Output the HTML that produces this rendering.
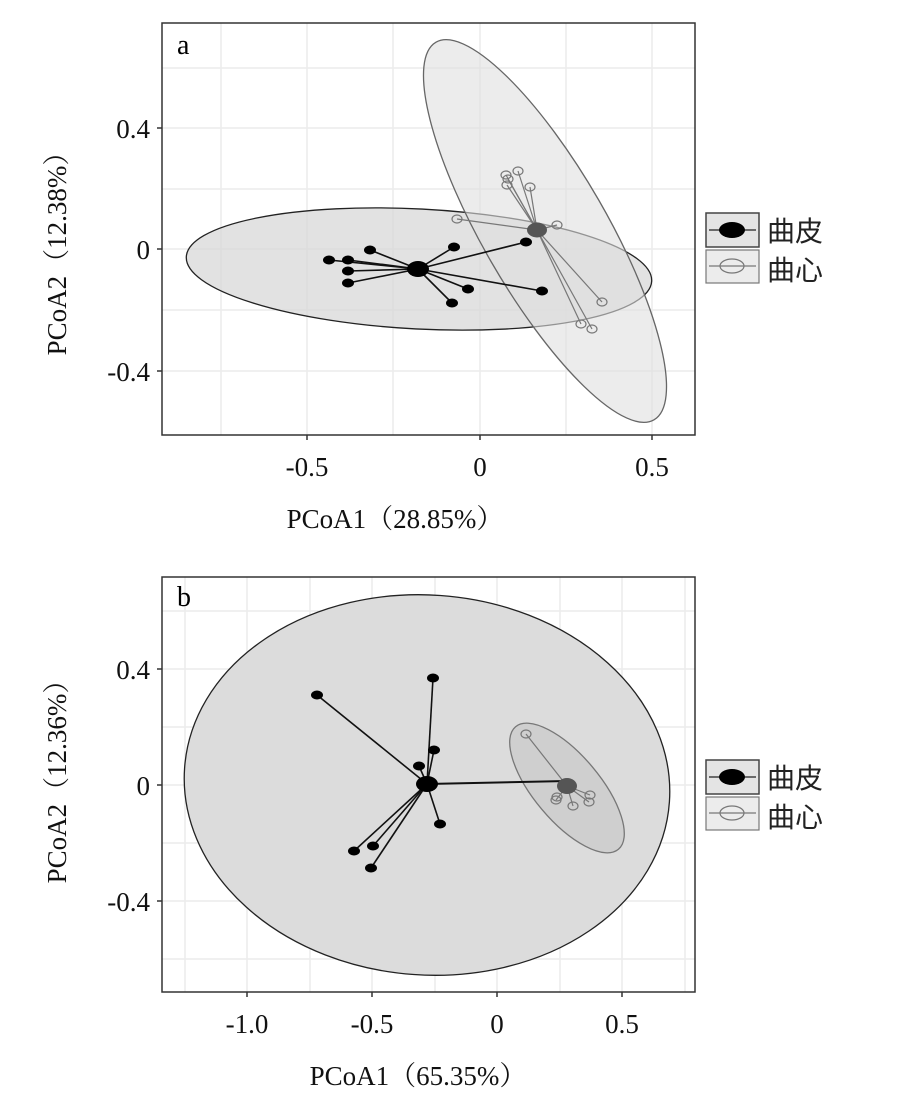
<!DOCTYPE html>
<html><head><meta charset="utf-8"><style>body{margin:0;background:#fff}svg{display:block}</style></head><body>
<svg width="914" height="1113" xmlns="http://www.w3.org/2000/svg" font-family="'Liberation Serif','Noto Serif CJK SC',serif">
<rect width="914" height="1113" fill="#fff"/>
<!-- Panel a -->
<g stroke="#ececec" stroke-width="1.5">
<line x1="221" y1="23" x2="221" y2="435"/><line x1="307" y1="23" x2="307" y2="435"/><line x1="393" y1="23" x2="393" y2="435"/><line x1="480" y1="23" x2="480" y2="435"/><line x1="566" y1="23" x2="566" y2="435"/><line x1="652" y1="23" x2="652" y2="435"/>
<line x1="162" y1="68" x2="695" y2="68"/><line x1="162" y1="128" x2="695" y2="128"/><line x1="162" y1="189" x2="695" y2="189"/><line x1="162" y1="249" x2="695" y2="249"/><line x1="162" y1="310" x2="695" y2="310"/><line x1="162" y1="371" x2="695" y2="371"/>
</g>
<ellipse cx="419" cy="269" rx="233" ry="60" transform="rotate(3 419 269)" fill="#d8d8d8" fill-opacity="0.75" stroke="#222" stroke-width="1.3"/>
<ellipse cx="545" cy="231" rx="218" ry="62" transform="rotate(60 545 231)" fill="#e0e0e0" fill-opacity="0.6" stroke="#666" stroke-width="1.3"/>
<g stroke="#111" stroke-width="1.6">
<line x1="418" y1="269" x2="329" y2="260"/><line x1="418" y1="269" x2="348" y2="260"/><line x1="418" y1="269" x2="348" y2="271"/><line x1="418" y1="269" x2="348" y2="283"/><line x1="418" y1="269" x2="370" y2="250"/><line x1="418" y1="269" x2="454" y2="247"/><line x1="418" y1="269" x2="526" y2="242"/><line x1="418" y1="269" x2="542" y2="291"/><line x1="418" y1="269" x2="468" y2="289"/><line x1="418" y1="269" x2="452" y2="303"/>
</g>
<g fill="#000">
<ellipse cx="329" cy="260" rx="6" ry="4.5"/><ellipse cx="348" cy="260" rx="6" ry="4.5"/><ellipse cx="348" cy="271" rx="6" ry="4.5"/><ellipse cx="348" cy="283" rx="6" ry="4.5"/><ellipse cx="370" cy="250" rx="6" ry="4.5"/><ellipse cx="454" cy="247" rx="6" ry="4.5"/><ellipse cx="526" cy="242" rx="6" ry="4.5"/><ellipse cx="542" cy="291" rx="6" ry="4.5"/><ellipse cx="468" cy="289" rx="6" ry="4.5"/><ellipse cx="452" cy="303" rx="6" ry="4.5"/>
<ellipse cx="418" cy="269" rx="11" ry="8"/>
</g>
<g stroke="#777" stroke-width="1.2" fill="none">
<line x1="537" y1="230" x2="506" y2="175"/><line x1="537" y1="230" x2="508" y2="179"/><line x1="537" y1="230" x2="507" y2="185"/><line x1="537" y1="230" x2="518" y2="171"/><line x1="537" y1="230" x2="530" y2="187"/><line x1="537" y1="230" x2="457" y2="219"/><line x1="537" y1="230" x2="557" y2="225"/><line x1="537" y1="230" x2="602" y2="302"/><line x1="537" y1="230" x2="581" y2="324"/><line x1="537" y1="230" x2="592" y2="329"/>
<ellipse cx="506" cy="175" rx="5" ry="4"/><ellipse cx="508" cy="179" rx="5" ry="4"/><ellipse cx="507" cy="185" rx="5" ry="4"/><ellipse cx="518" cy="171" rx="5" ry="4"/><ellipse cx="530" cy="187" rx="5" ry="4"/><ellipse cx="457" cy="219" rx="5" ry="4"/><ellipse cx="557" cy="225" rx="5" ry="4"/><ellipse cx="602" cy="302" rx="5" ry="4"/><ellipse cx="581" cy="324" rx="5" ry="4"/><ellipse cx="592" cy="329" rx="5" ry="4"/>
</g>
<ellipse cx="537" cy="230" rx="10" ry="7.5" fill="#555"/>
<rect x="162" y="23" width="533" height="412" fill="none" stroke="#333" stroke-width="1.5"/>
<g stroke="#333" stroke-width="1.5"><line x1="157" y1="128" x2="162" y2="128"/><line x1="157" y1="249" x2="162" y2="249"/><line x1="157" y1="371" x2="162" y2="371"/><line x1="307" y1="435" x2="307" y2="440"/><line x1="480" y1="435" x2="480" y2="440"/><line x1="652" y1="435" x2="652" y2="440"/></g>
<text x="177" y="54" font-size="28">a</text>
<g font-size="27" fill="#111">
<text x="150" y="138" text-anchor="end">0.4</text><text x="150" y="259" text-anchor="end">0</text><text x="150" y="381" text-anchor="end">-0.4</text>
<text x="307" y="476" text-anchor="middle">-0.5</text><text x="480" y="476" text-anchor="middle">0</text><text x="652" y="476" text-anchor="middle">0.5</text>
<text x="395" y="528" text-anchor="middle">PCoA1（28.85%）</text>
<text transform="translate(66 247) rotate(-90)" text-anchor="middle">PCoA2（12.38%）</text>
</g>
<!-- legend a -->
<rect x="706" y="213" width="53" height="34" fill="#e4e4e4" stroke="#444" stroke-width="1.5"/>
<line x1="709" y1="230" x2="756" y2="230" stroke="#222" stroke-width="1.2"/>
<ellipse cx="732" cy="230" rx="13" ry="8" fill="#000"/>
<rect x="706" y="250" width="53" height="33" fill="#ececec" stroke="#777" stroke-width="1.2"/>
<line x1="709" y1="266" x2="756" y2="266" stroke="#777" stroke-width="1.2"/>
<ellipse cx="732" cy="266" rx="12" ry="7" fill="none" stroke="#777" stroke-width="1.2"/>
<g font-size="28" fill="#222" font-family="'Noto Sans CJK SC',sans-serif"><text x="767" y="241">曲皮</text><text x="767" y="280">曲心</text></g>

<!-- Panel b -->
<g stroke="#ececec" stroke-width="1.5">
<line x1="185" y1="577" x2="185" y2="992"/><line x1="247" y1="577" x2="247" y2="992"/><line x1="310" y1="577" x2="310" y2="992"/><line x1="372" y1="577" x2="372" y2="992"/><line x1="435" y1="577" x2="435" y2="992"/><line x1="497" y1="577" x2="497" y2="992"/><line x1="560" y1="577" x2="560" y2="992"/><line x1="622" y1="577" x2="622" y2="992"/><line x1="685" y1="577" x2="685" y2="992"/>
<line x1="162" y1="611" x2="695" y2="611"/><line x1="162" y1="669" x2="695" y2="669"/><line x1="162" y1="727" x2="695" y2="727"/><line x1="162" y1="785" x2="695" y2="785"/><line x1="162" y1="843" x2="695" y2="843"/><line x1="162" y1="901" x2="695" y2="901"/><line x1="162" y1="959" x2="695" y2="959"/>
</g>
<ellipse cx="427" cy="785" rx="243" ry="190" transform="rotate(4 427 785)" fill="#dcdcdc" stroke="#222" stroke-width="1.3"/>
<ellipse cx="567" cy="788" rx="80" ry="33" transform="rotate(50 567 788)" fill="#cfcfcf" stroke="#777" stroke-width="1.3"/>
<g stroke="#111" stroke-width="1.6">
<line x1="427" y1="784" x2="317" y2="695"/><line x1="427" y1="784" x2="433" y2="678"/><line x1="427" y1="784" x2="434" y2="750"/><line x1="427" y1="784" x2="419" y2="766"/><line x1="427" y1="784" x2="440" y2="824"/><line x1="427" y1="784" x2="354" y2="851"/><line x1="427" y1="784" x2="373" y2="846"/><line x1="427" y1="784" x2="371" y2="868"/><line x1="427" y1="784" x2="567" y2="781" stroke-width="2"/>
</g>
<g fill="#000">
<ellipse cx="317" cy="695" rx="6" ry="4.5"/><ellipse cx="433" cy="678" rx="6" ry="4.5"/><ellipse cx="434" cy="750" rx="6" ry="4.5"/><ellipse cx="419" cy="766" rx="6" ry="4.5"/><ellipse cx="440" cy="824" rx="6" ry="4.5"/><ellipse cx="354" cy="851" rx="6" ry="4.5"/><ellipse cx="373" cy="846" rx="6" ry="4.5"/><ellipse cx="371" cy="868" rx="6" ry="4.5"/>
<ellipse cx="427" cy="784" rx="11" ry="8"/>
</g>
<g stroke="#777" stroke-width="1.2" fill="none">
<line x1="567" y1="786" x2="526" y2="734"/><line x1="567" y1="786" x2="590" y2="795"/><line x1="567" y1="786" x2="589" y2="802"/><line x1="567" y1="786" x2="573" y2="806"/><line x1="567" y1="786" x2="556" y2="800"/>
<ellipse cx="526" cy="734" rx="5" ry="4"/><ellipse cx="590" cy="795" rx="5" ry="4"/><ellipse cx="589" cy="802" rx="5" ry="4"/><ellipse cx="573" cy="806" rx="5" ry="4"/><ellipse cx="556" cy="800" rx="5" ry="4"/><ellipse cx="557" cy="797" rx="5" ry="4"/>
</g>
<ellipse cx="567" cy="786" rx="10" ry="8" fill="#555"/>
<rect x="162" y="577" width="533" height="415" fill="none" stroke="#333" stroke-width="1.5"/>
<g stroke="#333" stroke-width="1.5"><line x1="157" y1="669" x2="162" y2="669"/><line x1="157" y1="785" x2="162" y2="785"/><line x1="157" y1="901" x2="162" y2="901"/><line x1="247" y1="992" x2="247" y2="997"/><line x1="372" y1="992" x2="372" y2="997"/><line x1="497" y1="992" x2="497" y2="997"/><line x1="622" y1="992" x2="622" y2="997"/></g>
<text x="177" y="606" font-size="28">b</text>
<g font-size="27" fill="#111">
<text x="150" y="679" text-anchor="end">0.4</text><text x="150" y="795" text-anchor="end">0</text><text x="150" y="911" text-anchor="end">-0.4</text>
<text x="247" y="1033" text-anchor="middle">-1.0</text><text x="372" y="1033" text-anchor="middle">-0.5</text><text x="497" y="1033" text-anchor="middle">0</text><text x="622" y="1033" text-anchor="middle">0.5</text>
<text x="418" y="1085" text-anchor="middle">PCoA1（65.35%）</text>
<text transform="translate(66 775) rotate(-90)" text-anchor="middle">PCoA2（12.36%）</text>
</g>
<!-- legend b -->
<rect x="706" y="760" width="53" height="34" fill="#e4e4e4" stroke="#444" stroke-width="1.5"/>
<line x1="709" y1="777" x2="756" y2="777" stroke="#222" stroke-width="1.2"/>
<ellipse cx="732" cy="777" rx="13" ry="8" fill="#000"/>
<rect x="706" y="797" width="53" height="33" fill="#ececec" stroke="#777" stroke-width="1.2"/>
<line x1="709" y1="813" x2="756" y2="813" stroke="#777" stroke-width="1.2"/>
<ellipse cx="732" cy="813" rx="12" ry="7" fill="none" stroke="#777" stroke-width="1.2"/>
<g font-size="28" fill="#222" font-family="'Noto Sans CJK SC',sans-serif"><text x="767" y="788">曲皮</text><text x="767" y="827">曲心</text></g>
</svg>
</body></html>
